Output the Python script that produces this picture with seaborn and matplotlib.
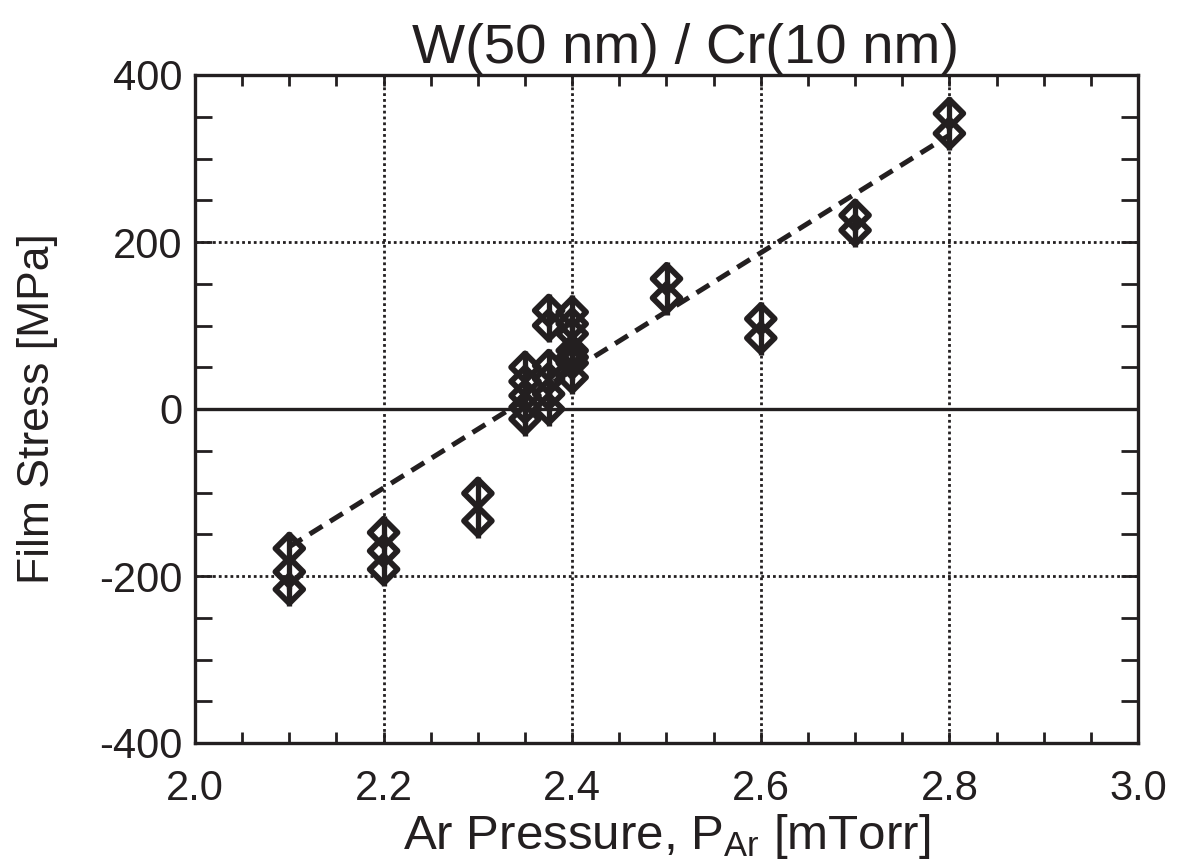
import numpy as np
import pandas as pd
import matplotlib
matplotlib.use("Agg")
import matplotlib.pyplot as plt
import seaborn as sns

# ---- data ----
p_210 = [-167, -195, -216]
p_220 = [-148, -170, -192]
p_230 = [-101, -134]
p_235 = [50, 33, 16, 2, -12]
p_2375 = [118, 100, 52, 36, 18, 0]
p_240 = [116, 102, 90, 70, 62, 55, 38]
p_250 = [156, 133]
p_260 = [108, 85]
p_270 = [232, 214]
p_280 = [354, 330]
pressures = [2.10, 2.20, 2.30, 2.35, 2.375, 2.40, 2.50, 2.60, 2.70, 2.80]
stress_groups = [p_210, p_220, p_230, p_235, p_2375, p_240, p_250, p_260, p_270, p_280]
stress_err = 20

fit_x = [2.10, 2.80]
fit_y = [-165, 328]

x_ticks = [2.0, 2.2, 2.4, 2.6, 2.8, 3.0]
x_ticklabels = ["2.0", "2.2", "2.4", "2.6", "2.8", "3.0"]
y_ticks = [-400, -200, 0, 200, 400]
y_ticklabels = ["-400", "-200", "0", "200", "400"]

title = "W(50 nm) / Cr(10 nm)"
xlabel = r"Ar Pressure, P$_{\mathrm{Ar}}$ [mTorr]"
ylabel = "Film Stress [MPa]"

rows = []
for p, g in zip(pressures, stress_groups):
    for s in g:
        rows.append({"P": p, "S": s})
df = pd.DataFrame(rows)

# ---- style ----
sns.set_theme(style="white")
plt.rcParams["font.family"] = ["Liberation Sans", "DejaVu Sans"]
plt.rcParams["mathtext.fontset"] = "custom"
plt.rcParams["mathtext.rm"] = "Liberation Sans"
plt.rcParams["mathtext.it"] = "Liberation Sans:italic"

ink = "#231f20"

fig = plt.figure(figsize=(11.78, 8.64), dpi=100)
ax = fig.add_axes([195 / 1178, 1 - 743 / 864, (1138 - 195) / 1178, (743 - 75) / 864])

ax.set_xlim(2.0, 3.0)
ax.set_ylim(-400, 400)

# grid
for gx in [2.2, 2.4, 2.6, 2.8]:
    ax.axvline(gx, color=ink, lw=2.0, ls=(0, (1, 1.1)), zorder=1)
for gy in [-200, 200]:
    ax.axhline(gy, color=ink, lw=2.0, ls=(0, (1, 1.1)), zorder=1)
ax.axhline(0, color=ink, lw=2.4, zorder=1)

# fit line
sns.lineplot(x=fit_x, y=fit_y, ax=ax, color=ink, lw=3.6, zorder=2)
ax.lines[-1].set_dashes([3, 1.8])

# error bars
ax.errorbar(df["P"], df["S"], yerr=stress_err, fmt="none", ecolor=ink,
            elinewidth=3.8, capsize=0, zorder=3)

# markers
sns.scatterplot(data=df, x="P", y="S", ax=ax, marker="D", s=200,
                facecolors="none", edgecolor=ink, linewidth=4.2, zorder=4)

# ticks
ax.set_xticks(x_ticks)
ax.set_xticklabels(x_ticklabels)
ax.set_yticks(y_ticks)
ax.set_yticklabels(y_ticklabels)
ax.set_xticks(np.arange(2.0, 3.0001, 0.05), minor=True)
ax.set_yticks(np.arange(-400, 400.1, 50), minor=True)
ax.tick_params(axis="both", which="both", direction="in", top=True, right=True,
               bottom=True, left=True, color=ink, width=2.0, labelsize=30,
               labelcolor=ink)
ax.tick_params(axis="x", which="both", length=8, pad=19)
ax.tick_params(axis="y", which="both", length=12, pad=9)

for sp in ax.spines.values():
    sp.set_color(ink)
    sp.set_linewidth(2.4)
    sp.set_visible(True)

ax.set_title(title, fontsize=40.5, color=ink, pad=3, x=0.52)
ax.set_xlabel(xlabel, fontsize=35.5, color=ink, labelpad=2)
ax.set_ylabel(ylabel, fontsize=32, color=ink)
ax.yaxis.set_label_coords(-0.145, 0.5)

fig.savefig("out.png", dpi=100)
